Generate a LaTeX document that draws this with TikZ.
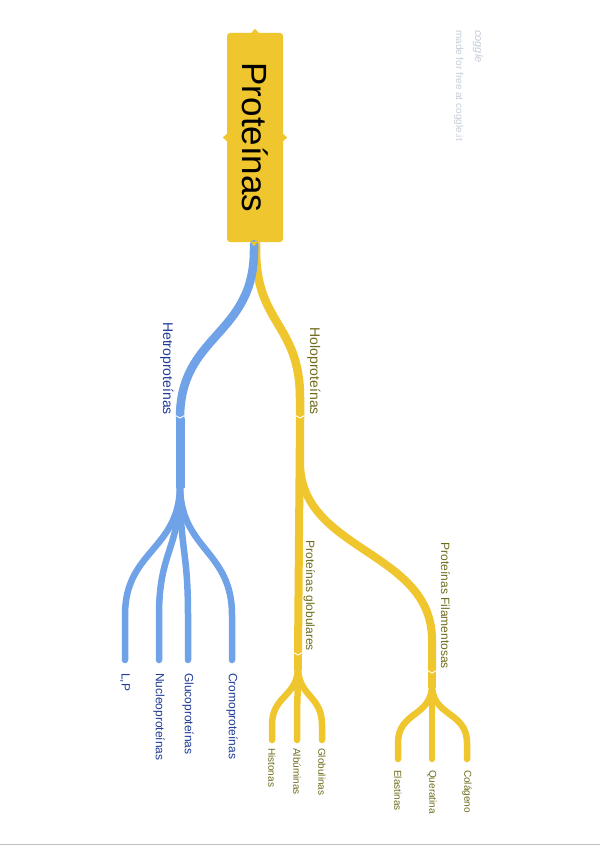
\documentclass[tikz,border=0pt]{standalone}
\usepackage{fontspec}
\setmainfont{Liberation Sans}
\usetikzlibrary{calc}
\definecolor{cyel}{HTML}{F0C62E}
\definecolor{cblue}{HTML}{6FA2E6}
\definecolor{tblue}{HTML}{1F3C96}
\definecolor{tolive}{HTML}{6F6C1C}
\definecolor{wm}{HTML}{C6CEDA}
\tikzset{
  conn/.style={line cap=round, line join=round},
  bluetrunk/.style={conn, draw=cblue, line width=8.5pt},
  blueleaf/.style={conn, draw=cblue, line width=6.5pt},
  yeltrunk/.style={conn, draw=cyel, line width=8.5pt},
  yelleaf/.style={conn, draw=cyel, line width=6.5pt},
  notch/.style={draw=white, line width=0.9pt, line cap=butt},
  rootbox/.style={rectangle, rounded corners=3pt, fill=cyel, rotate=-90,
    minimum width=209pt, minimum height=56pt, inner sep=0pt,
    font=\fontsize{35}{35}\selectfont, text=black},
  lblA/.style={rotate=-90, inner sep=0pt, anchor=base east, font=\fontsize{14}{14}\selectfont},
  lblB/.style={rotate=-90, inner sep=0pt, anchor=base east, font=\fontsize{12}{12}\selectfont},
  leafB/.style={rotate=-90, inner sep=0pt, anchor=west, font=\fontsize{12}{12}\selectfont, text=tblue},
  leafC/.style={rotate=-90, inner sep=0pt, anchor=west, font=\fontsize{10}{10}\selectfont, text=tolive},
  wmark/.style={rotate=-90, inner sep=0pt, anchor=base west, text=wm}
}
\begin{document}
\begin{tikzpicture}[x=1pt,y=-1pt]
\useasboundingbox (0,0) rectangle (600,848);
\fill[white] (0,0) rectangle (600,848);

% watermark
\node[wmark, font=\fontsize{11}{11}\selectfont\itshape] (wm1) at (475,30) {coggle};
\node[wmark, font=\fontsize{10}{10}\selectfont] (wm2) at (456,30) {made for free at coggle.it};

% junction points
\coordinate (hetJ) at (180,418);
\coordinate (holJ) at (300,418);
\coordinate (gloJ) at (298,655);
\coordinate (filJ) at (432,673);
% leaf ends
\coordinate (lpE) at (125,660);
\coordinate (nuE) at (159,660);
\coordinate (glE) at (188,660);
\coordinate (crE) at (232,660);
\coordinate (hiE) at (272,740);
\coordinate (alE) at (297,740);
\coordinate (gbE) at (322,740);
\coordinate (elE) at (398,759);
\coordinate (quE) at (432,759);
\coordinate (coE) at (467,759);

% root
\node[rootbox] (root) at (255,137.5) {Proteínas};
\fill[cyel] ($(root.west)+(-4,0.5)$) -- ($(root.west)+(0,-4)$) -- ($(root.west)+(4,0.5)$) -- cycle;
\fill[cyel] ($(root.south)+(0.5,-4)$) -- ($(root.south)+(-4,0)$) -- ($(root.south)+(0.5,4)$) -- cycle;
\fill[cyel] ($(root.north)+(-0.5,-4)$) -- ($(root.north)+(4,0)$) -- ($(root.north)+(-0.5,4)$) -- cycle;

% level 1 connectors
\draw[yeltrunk] ($(root.east)+(1,2)$) -- ++(0,6) .. controls +(0,74) and +(0,-74) .. ($(holJ)+(0,-20)$) -- (holJ);
\draw[bluetrunk] ($(root.east)+(-1,2)$) -- ++(0,6) .. controls +(0,86) and +(0,-84) .. (hetJ);
\fill[cyel] ($(root.east)+(-4.5,-0.5)$) -- ($(root.east)+(-1,4)$) -- ($(root.east)+(3,-0.5)$) -- cycle;

% blue leaves
\foreach \e in {lpE,nuE,glE,crE}{
  \draw[blueleaf] (hetJ) -- ++(0,67) .. controls +(0,65) and +(0,-65) .. ($(\e)+(0,-45)$) -- (\e);
}
\draw[bluetrunk, line width=9pt, line cap=butt] (hetJ) -- ++(0,70);

% yellow: globulares and filamentosas
\draw[yeltrunk, line width=8pt] (holJ) -- (gloJ);
\draw[yeltrunk, line width=8pt] (holJ) -- ++(0,44) .. controls +(0,90) and +(0,-90) .. ($(filJ)+(0,-33)$) -- (filJ);
\foreach \e in {hiE,alE,gbE}{
  \draw[yelleaf] (gloJ) -- ++(0,12) .. controls +(0,30) and +(0,-30) .. ($(\e)+(0,-15)$) -- (\e);
}
\draw[yeltrunk, line width=8pt, line cap=butt] (gloJ) -- ++(0,15);
\foreach \e in {elE,quE,coE}{
  \draw[yelleaf] (filJ) -- ++(0,12) .. controls +(0,32) and +(0,-32) .. ($(\e)+(0,-16)$) -- (\e);
}
\draw[yeltrunk, line width=8pt, line cap=butt] (filJ) -- ++(0,15);

% notches at junctions
\foreach \j in {hetJ,holJ,gloJ,filJ}{
  \draw[notch] ($(\j)+(-4.5,-2.5)$) -- (\j) -- ($(\j)+(4.5,-2.5)$);
}

% labels
\node[lblA, text=tblue] (het) at (163,415) {Hetroproteínas};
\node[lblA, text=tolive] (hol) at (310,415) {Holoproteínas};
\node[lblB, text=tolive] (glo) at (306,651) {Proteínas globulares};
\node[lblB, text=tolive] (fil) at (441,669) {Proteínas Filamentosas};

\node[leafB] (lp) at ($(lpE)+(0,13)$) {L,P};
\node[leafB] (nu) at ($(nuE)+(0,13)$) {Nucleoproteínas};
\node[leafB] (gl) at ($(glE)+(0,13)$) {Glucoproteínas};
\node[leafB] (cr) at ($(crE)+(0,13)$) {Cromoproteínas};

\node[leafC] (hi) at ($(hiE)+(0,8)$) {Histonas};
\node[leafC] (al) at ($(alE)+(0,8)$) {Albúminas};
\node[leafC] (gb) at ($(gbE)+(0,8)$) {Globulinas};
\node[leafC] (el) at ($(elE)+(0,11)$) {Elastinas};
\node[leafC] (qu) at ($(quE)+(0,11)$) {Queratina};
\node[leafC] (co) at ($(coE)+(0,11)$) {Colágeno};

% scan edge
\draw[black!25, line width=1pt] (0,844.5) -- (600,844.5);
\end{tikzpicture}
\end{document}
